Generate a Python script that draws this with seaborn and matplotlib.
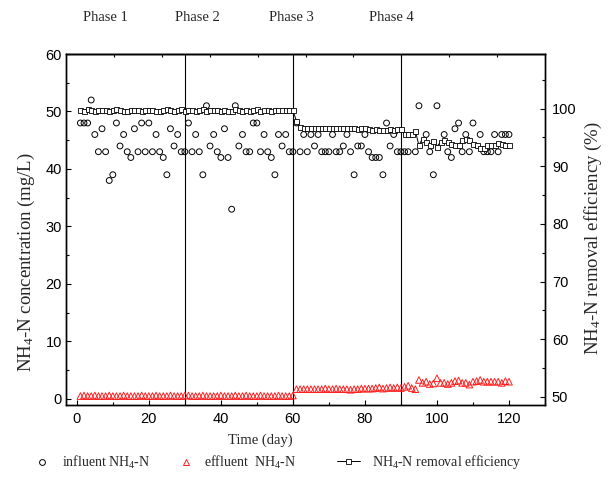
import numpy as np
import pandas as pd
import matplotlib
matplotlib.use("Agg")
import matplotlib.pyplot as plt
import seaborn as sns
from matplotlib.lines import Line2D
from matplotlib.ticker import MultipleLocator

nan = np.nan
days = list(range(1, 121))
influent = [48, 48, 48, 52, 46, 43, 47, 43, 38, 39,
            48, 44, 46, 43, 42, 47, 43, 48, 43, 48,
            43, 46, 43, 42, 39, 47, 44, 46, 43, 43,
            48, 43, 46, 43, 39, 51, 44, 46, 43, 42,
            47, 42, 33, 51, 44, 46, 43, 43, 48, 48,
            43, 46, 43, 42, 39, 46, 44, 46, 43, 43,
            48, 43, 46, 43, 46, 44, 46, 43, 43, 43,
            46, 43, 43, 44, 46, 43, 39, 44, 44, 46,
            43, 42, 42, 42, 39, 48, 44, 46, 43, 43,
            43, 43, nan, 43, 51, nan, 46, 43, 39, 51,
            nan, 46, 43, 42, 47, 48, 43, 46, 43, 48,
            nan, 46, 43, 43, 43, 46, 43, 46, 46, 46]
effluent = [0.5, 0.6, 0.5, 0.5, 0.6, 0.5, 0.5, 0.5, 0.6, 0.5,
            0.5, 0.5, 0.6, 0.5, 0.5, 0.5, 0.5, 0.6, 0.5, 0.5,
            0.5, 0.6, 0.5, 0.5, 0.5, 0.6, 0.5, 0.5, 0.5, 0.6,
            0.6, 0.5, 0.5, 0.5, 0.6, 0.5, 0.5, 0.5, 0.5, 0.6,
            0.5, 0.5, 0.5, 0.6, 0.5, 0.5, 0.6, 0.5, 0.5, 0.5,
            0.6, 0.5, 0.5, 0.5, 0.5, 0.6, 0.5, 0.5, 0.5, 0.6,
            1.7, 1.7, 1.7, 1.7, 1.7, 1.7, 1.7, 1.7, 1.8, 1.7,
            1.7, 1.8, 1.7, 1.7, 1.7, 1.6, 1.7, 1.7, 1.8, 1.8,
            1.8, 1.8, 1.9, 2.0, 1.8, 1.9, 2.0, 1.9, 2.0, 1.9,
            2.1, 2.3, 1.9, 1.7, 3.3, 2.8, 3.0, 2.6, 2.7, 3.6,
            2.8, 2.8, 2.6, 2.8, 3.1, 3.2, 2.8, 2.8, 2.5, 3.0,
            3.1, 3.3, 3.0, 3.0, 3.0, 3.0, 3.0, 2.8, 3.1, 3.0]
removal = [99.7, 99.6, 99.9, 99.7, 99.6, 99.8, 99.7, 99.7, 99.6, 99.7,
           99.9, 99.7, 99.6, 99.6, 99.7, 99.7, 99.8, 99.6, 99.7, 99.7,
           99.8, 99.6, 99.6, 99.7, 99.9, 99.7, 99.6, 99.7, 99.9, 99.6,
           99.7, 99.8, 99.6, 99.7, 99.9, 99.6, 99.7, 99.7, 99.8, 99.6,
           99.7, 99.6, 99.6, 99.9, 99.7, 99.6, 99.8, 99.6, 99.7, 99.9,
           99.6, 99.8, 99.7, 99.6, 99.7, 99.7, 99.7, 99.7, 99.7, 99.7,
           97.8, 96.8, 96.7, 96.6, 96.7, 96.6, 96.6, 96.7, 96.6, 96.6,
           96.6, 96.7, 96.6, 96.6, 96.7, 96.6, 96.6, 96.5, 96.6, 96.6,
           96.4, 96.3, 96.4, 96.3, 96.2, 96.3, 96.4, 96.3, 96.4, 96.4,
           95.5, 95.5, 95.5, 96.1, 93.6, 94.8, 94.2, 93.6, 94.4, 93.4,
           94.2, 94.5, 94.2, 93.8, 93.6, 93.7, 94.5, 94.8, 94.5, 93.8,
           93.6, 93.1, 93.1, 93.6, 93.6, 93.6, 94.0, 93.8, 93.6, 93.6]
phase_labels = ["Phase 1", "Phase 2", "Phase 3", "Phase 4"]
phase_bounds = [30, 60, 90]

df = pd.DataFrame({"day": days, "influent": influent,
                   "effluent": effluent, "removal": removal})

sns.set_theme(style="ticks")
plt.rcParams.update({
    "font.family": ["Liberation Serif", "DejaVu Serif"],
    "mathtext.fontset": "custom",
    "mathtext.rm": "Liberation Serif",
    "mathtext.it": "Liberation Serif:italic",
    "mathtext.bf": "Liberation Serif:bold",
    "axes.edgecolor": "black",
    "axes.linewidth": 1.0,
    "xtick.color": "black",
    "ytick.color": "black",
})

W, H = 616, 478
fig = plt.figure(figsize=(W / 100, H / 100), dpi=100)
fig.patch.set_facecolor("white")
ax = fig.add_axes([66 / W, 1 - 405 / H, 479 / W, 351 / H])
ax2 = ax.twinx()

sns.scatterplot(data=df, x="day", y="influent", ax=ax, marker="o", s=4.2 ** 2,
                facecolor="none", edgecolor="black", linewidth=0.7, zorder=3)
sns.scatterplot(data=df, x="day", y="effluent", ax=ax, marker="^", s=4.8 ** 2,
                facecolor="none", edgecolor="#ff2020", linewidth=0.7, zorder=3)
sns.lineplot(data=df, x="day", y="removal", ax=ax2, color="black", linewidth=0.7,
             marker="s", markersize=3.6, markerfacecolor="white",
             markeredgecolor="black", markeredgewidth=0.6, zorder=3)

for b in phase_bounds:
    ax.axvline(b, color="black", linewidth=0.8, zorder=2)

ax.set_xlim(-3, 130)
ax.set_ylim(-1.05, 60)
ax2.set_ylim(48.6, 109.45)

ax.xaxis.set_major_locator(MultipleLocator(20))
ax.xaxis.set_minor_locator(MultipleLocator(10))
ax.yaxis.set_major_locator(MultipleLocator(10))
ax.yaxis.set_minor_locator(MultipleLocator(5))
ax2.set_yticks(list(range(50, 101, 10)))
ax2.yaxis.set_minor_locator(MultipleLocator(5))

ax.tick_params(axis="both", which="major", direction="in", length=3.8, width=0.8,
               labelsize=10.5, labelfontfamily="Liberation Sans")
ax.tick_params(axis="both", which="minor", direction="in", length=2.4, width=0.8)
ax.tick_params(axis="x", which="major", pad=5)
ax.tick_params(axis="y", which="major", pad=3)
ax2.tick_params(axis="y", which="major", direction="in", length=3.8, width=0.8,
                labelsize=10.5, labelfontfamily="Liberation Sans", pad=5)
ax2.tick_params(axis="y", which="minor", direction="in", length=2.4, width=0.8)

top = ax.secondary_xaxis("top")
top.set_xticks(list(np.linspace(-3, 130, 11)[1:-1]))
top.tick_params(direction="in", length=2.4, width=0.8, labeltop=False)
top.set_xticklabels([])

ax.set_xlabel("Time (day)", fontsize=10.5)
ax.xaxis.set_label_coords(0.405, -0.08)
ax.set_ylabel(r"NH$_4$-N concentration (mg/L)", fontsize=13.5)
ax.yaxis.set_label_coords(-0.061, 0.407)
ax2.set_ylabel(r"NH$_4$-N removal efficiency (%)", fontsize=13.5)
ax2.yaxis.set_label_coords(1.079, 0.476)

for a in (ax, ax2):
    for s in a.spines.values():
        s.set_color("black")
        s.set_linewidth(1.0)

phase_x = [83, 175, 269, 369]
for lbl, px in zip(phase_labels, phase_x):
    fig.text(px / W, 1 - 17.5 / H, lbl, ha="left", va="center", fontsize=10.5)

handles = [
    Line2D([], [], linestyle="none", marker="o", markersize=4.2,
           markerfacecolor="none", markeredgecolor="black", markeredgewidth=0.7),
    Line2D([], [], linestyle="none", marker="^", markersize=4.8,
           markerfacecolor="none", markeredgecolor="#ff2020", markeredgewidth=0.7),
    Line2D([], [], color="black", linewidth=0.7, marker="s", markersize=3.6,
           markerfacecolor="white", markeredgecolor="black", markeredgewidth=0.6),
]
labels = [r"influent NH$_4$-N", r"effluent  NH$_4$-N", r"NH$_4$-N removal efficiency"]
anchors = [31, 175, 337]
hlens = [1.6, 1.6, 1.65]
pads = [0.65, 0.5, 0.9]
for h, l, x0, hl, tp in zip(handles, labels, anchors, hlens, pads):
    fig.legend([h], [l], loc="center left", bbox_to_anchor=(x0 / W, 1 - 462 / H),
               frameon=False, handlelength=hl, handletextpad=tp,
               borderpad=0, borderaxespad=0, fontsize=10)

fig.savefig("out.png", dpi=100, facecolor="white")
